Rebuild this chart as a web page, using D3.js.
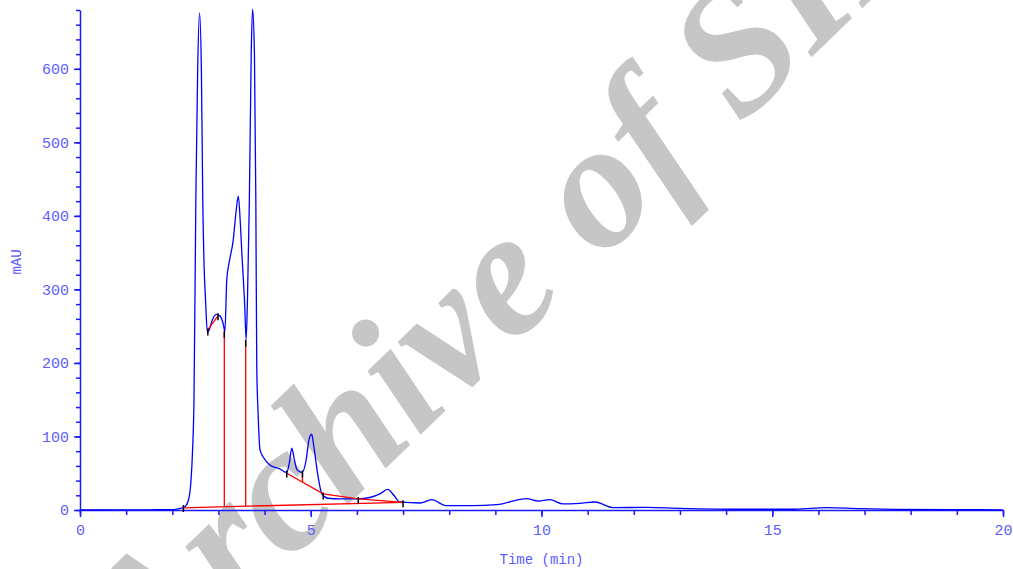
<!DOCTYPE html>
<html>
<head>
<meta charset="utf-8">
<script src="https://cdn.jsdelivr.net/npm/d3@7"></script>
<style>
  body { margin: 0; background: #fff; }
  svg { display: block; }
  .tick text { font-family: "Liberation Mono", "DejaVu Sans Mono", monospace; }
</style>
</head>
<body>
<div id="chart"></div>
<script>
const width = 1013;
const height = 569;

// chromatogram trace: retention time (min) and absorbance (mAU)
const timeMin = [
  0, 0.5, 1.0, 1.5, 2.0, 2.17, 2.27, 2.35, 2.40, 2.44, 2.47, 2.51, 2.55, 2.59,
  2.63, 2.66, 2.69, 2.72, 2.76, 2.80, 2.86, 2.95, 3.03, 3.10, 3.14, 3.18, 3.23,
  3.32, 3.38, 3.43, 3.47, 3.50, 3.57, 3.60, 3.63, 3.67, 3.71, 3.74, 3.78, 3.81,
  3.83, 3.86, 3.90, 3.97, 4.12, 4.33, 4.48, 4.53, 4.59, 4.64, 4.70, 4.81, 4.90,
  4.96, 5.02, 5.07, 5.16, 5.24, 5.37, 5.63, 6.02, 6.28, 6.50, 6.67, 6.80, 6.93,
  7.37, 7.62, 7.93, 8.50, 9.03, 9.68, 9.93, 10.18, 10.47, 10.83, 11.16, 11.56,
  12.28, 13.0, 14.45, 15.5, 16.18, 16.9, 17.8, 19.0, 20.0
];
const mAU = [
  0, 0, 0.3, 0.3, 0.5, 2.3, 4.5, 13.6, 36, 82, 150, 422, 600, 676,
  600, 422, 330, 286, 242, 245, 257, 266, 264, 254, 243, 313, 336,
  367, 405, 427, 395, 358, 277, 232, 290, 422, 620, 681, 620, 422,
  196, 130, 82, 72, 61, 56, 51, 62, 84, 70, 55, 51, 68,
  95, 103, 85, 45, 22, 16, 15, 15, 17, 22, 28, 20, 11,
  9.5, 14, 6, 6, 7.3, 15.4, 12.2, 14, 8.2, 9.1, 10.9, 3.2,
  3.6, 2.3, 1, 1, 3.2, 1.8, 0.7, 0.4, 0.3
];

// integration baselines [time, mAU]
const baselineMain = [[2.24, 3], [7.00, 10.5]];
const baselineShoulder = [[2.77, 245], [2.99, 264]];
const baselineTail = [[4.48, 50], [5.27, 22], [6.03, 15], [7.00, 10.5]];
// drop lines [time, top mAU, bottom mAU]
const dropLines = [[3.127, 241, 4.1], [3.59, 229, 5.4], [4.82, 51, 38]];
// peak start / end event markers [time, mAU]
const events = [
  [2.24, 4], [2.77, 244], [2.99, 265], [3.127, 241], [3.59, 229],
  [4.48, 51], [4.82, 51], [5.27, 21], [6.03, 15], [7.00, 10.5]
];

const xMajor = [0, 5, 10, 15, 20];
const xMinor = d3.range(0, 21, 1);
const yMajor = [0, 100, 200, 300, 400, 500, 600];
const yMinor = d3.range(0, 681, 20);

const axisColor = "#1a1aff";
const labelColor = "#5c5cff";

const svg = d3.select("#chart")
  .append("svg")
  .attr("width", width)
  .attr("height", height);

const xScale = d3.scaleLinear().domain([0, 20]).range([80, 1003]);
const yScale = d3.scaleLinear().domain([0, 680]).range([510, 10]);

// watermark (drawn first, chart lines sit on top)
svg.append("text")
  .attr("transform", "translate(151, 695) rotate(-44)")
  .attr("fill", "#c6c6c6")
  .style("font-family", "'Liberation Serif', serif")
  .style("font-weight", "bold")
  .style("font-style", "italic")
  .style("font-size", "180px")
  .text("Archive of SID");

// axes
const styleAxis = g => {
  g.select(".domain").attr("stroke", axisColor).attr("stroke-width", 1.5);
  g.selectAll(".tick line").attr("stroke", axisColor).attr("stroke-width", 1.5);
  g.selectAll(".tick text")
    .attr("fill", labelColor)
    .style("font-size", "15px");
};

svg.append("g")
  .attr("transform", `translate(0, ${yScale(0)})`)
  .call(d3.axisBottom(xScale).tickValues(xMinor).tickFormat("").tickSize(5).tickSizeOuter(0))
  .call(styleAxis);

svg.append("g")
  .attr("transform", `translate(0, ${yScale(0)})`)
  .call(d3.axisBottom(xScale).tickValues(xMajor).tickFormat(d3.format("d")).tickSize(7).tickPadding(7).tickSizeOuter(0))
  .call(styleAxis)
  .call(g => g.select(".domain").remove());

svg.append("g")
  .attr("transform", `translate(${xScale(0)}, 0)`)
  .call(d3.axisLeft(yScale).tickValues(yMinor).tickFormat("").tickSize(4).tickSizeOuter(0))
  .call(styleAxis);

svg.append("g")
  .attr("transform", `translate(${xScale(0)}, 0)`)
  .call(d3.axisLeft(yScale).tickValues(yMajor).tickFormat(d3.format("d")).tickSize(6).tickPadding(5).tickSizeOuter(0))
  .call(styleAxis)
  .call(g => g.select(".domain").remove());

svg.append("text")
  .attr("x", (xScale(0) + xScale(20)) / 2)
  .attr("y", 564)
  .attr("text-anchor", "middle")
  .attr("fill", labelColor)
  .style("font-family", "'Liberation Mono', monospace")
  .style("font-size", "14px")
  .text("Time (min)");

svg.append("text")
  .attr("transform", `translate(21, ${(yScale(0) + yScale(680)) / 2 + 2}) rotate(-90)`)
  .attr("text-anchor", "middle")
  .attr("fill", labelColor)
  .style("font-family", "'Liberation Mono', monospace")
  .style("font-size", "14px")
  .text("mAU");

// trace
const line = d3.line()
  .x(d => xScale(d[0]))
  .y(d => yScale(d[1]))
  .curve(d3.curveMonotoneX);

const trace = timeMin.map((t, i) => [t, mAU[i]]);

svg.append("path")
  .datum(trace)
  .attr("fill", "none")
  .attr("stroke", "#0000ff")
  .attr("stroke-width", 1.3)
  .attr("d", line);

// integration marks
const straight = d3.line().x(d => xScale(d[0])).y(d => yScale(d[1]));

svg.selectAll("path.baseline")
  .data([baselineMain, baselineShoulder, baselineTail])
  .join("path")
  .attr("class", "baseline")
  .attr("fill", "none")
  .attr("stroke", "#ff0000")
  .attr("stroke-width", 1.3)
  .attr("d", straight);

svg.selectAll("line.drop")
  .data(dropLines)
  .join("line")
  .attr("class", "drop")
  .attr("x1", d => xScale(d[0]))
  .attr("x2", d => xScale(d[0]))
  .attr("y1", d => yScale(d[1]))
  .attr("y2", d => yScale(d[2]))
  .attr("stroke", "#ff0000")
  .attr("stroke-width", 1.3);

svg.selectAll("line.event")
  .data(events)
  .join("line")
  .attr("class", "event")
  .attr("x1", d => xScale(d[0]))
  .attr("x2", d => xScale(d[0]))
  .attr("y1", d => yScale(d[1]) - 2)
  .attr("y2", d => yScale(d[1]) + 5)
  .attr("stroke", "#000")
  .attr("stroke-width", 1.5);
</script>
</body>
</html>
